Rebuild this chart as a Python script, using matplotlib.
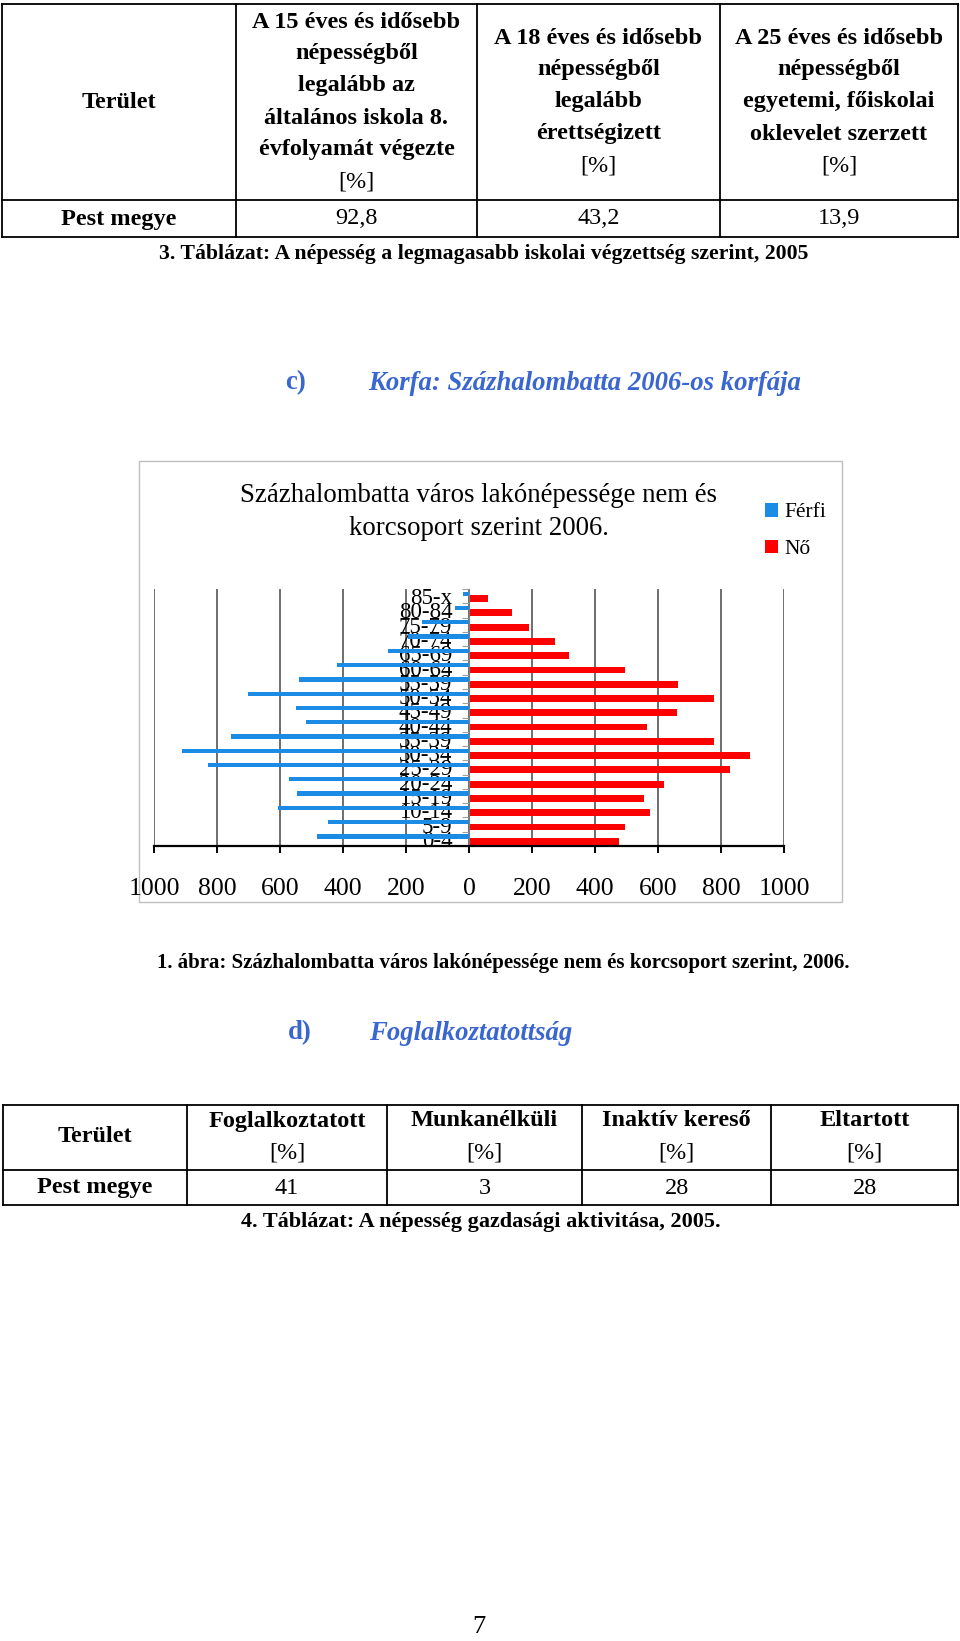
"""
Szazhalombatta korfa oldal: ket tablazat + korfa (2006).
Kimenet: out.png (960x1641)
"""

import numpy as np

import matplotlib
matplotlib.use("Agg")
import matplotlib.pyplot as plt
from matplotlib.patches import Rectangle
from matplotlib.ticker import FuncFormatter

plt.rcParams["font.family"] = ["Liberation Serif", "DejaVu Serif"]

# --- adatok -------------------------------------------------------------
KORCSOPORT = ["0-4", "5-9", "10-14", "15-19", "20-24", "25-29", "30-34", "35-39",
              "40-44", "45-49", "50-54", "55-59", "60-64", "65-69", "70-74", "75-79",
              "80-84", "85-x"]
FERFI = [481, 447, 605, 545, 570, 830, 912, 754, 516, 548, 703, 541, 418, 256, 193, 150, 44, 19]
NO = [475, 494, 574, 555, 618, 830, 891, 777, 564, 661, 777, 664, 494, 317, 273, 190, 136, 60]
X_TICKS = [-1000, -800, -600, -400, -200, 0, 200, 400, 600, 800, 1000]

T3_TERULET = "Pest megye"
T3_FEJLEC = [
    ["A 15 éves és idősebb", "népességből", "legalább az", "általános iskola 8.",
     "évfolyamát végezte", "[%]"],
    ["A 18 éves és idősebb", "népességből", "legalább", "érettségizett", "[%]"],
    ["A 25 éves és idősebb", "népességből", "egyetemi, főiskolai", "oklevelet szerzett", "[%]"],
]
T3_ERTEK = ["92,8", "43,2", "13,9"]
T3_CIM = "3. Táblázat: A népesség a legmagasabb iskolai végzettség szerint, 2005"

T4_FEJLEC = [["Foglalkoztatott", "[%]"], ["Munkanélküli", "[%]"],
             ["Inaktív kereső", "[%]"], ["Eltartott", "[%]"]]
T4_ERTEK = ["41", "3", "28", "28"]
T4_CIM = "4. Táblázat: A népesség gazdasági aktivitása, 2005."

ABRA_CIM = "Százhalombatta város lakónépessége nem és\nkorcsoport szerint 2006."
ABRA_FELIRAT = "1. ábra: Százhalombatta város lakónépessége nem és korcsoport szerint, 2006."

KEK = "#1c8be6"
PIROS = "#ff0000"
CIMSZIN = "#3a66d0"
W, H = 960, 1641


def tabla(ax, xs, ys):
    for x in xs:
        ax.plot([x, x], [ys[0], ys[-1]], color="black", lw=1.3)
    for y in ys:
        ax.plot([xs[0], xs[-1]], [y, y], color="black", lw=1.3)


def fejlec(ax, xc, yc, sorok, dy, fs):
    n = len(sorok)
    for i, s in enumerate(sorok):
        y = yc + (i - (n - 1) / 2) * dy
        ax.text(xc, y, s, ha="center", va="center", fontsize=fs,
                fontweight="normal" if s == "[%]" else "bold")


def main():
    fig = plt.figure(figsize=(W / 100, H / 100), dpi=100)
    pg = fig.add_axes([0, 0, 1, 1])
    pg.set_xlim(0, W); pg.set_ylim(H, 0); pg.axis("off")

    fs_t = 17.5
    # 3. tablazat
    xs = [2, 236, 477, 720, 958]
    ys = [4, 200, 237]
    tabla(pg, xs, ys)
    pg.text(119, 102, "Terület", ha="center", va="center", fontsize=fs_t, fontweight="bold")
    pg.text(119, 219, T3_TERULET, ha="center", va="center", fontsize=fs_t, fontweight="bold")
    for i, sorok in enumerate(T3_FEJLEC):
        xc = (xs[i + 1] + xs[i + 2]) / 2
        fejlec(pg, xc, 102, sorok, 32, fs_t)
        pg.text(xc, 219, T3_ERTEK[i], ha="center", va="center", fontsize=fs_t)
    pg.text(484, 254, T3_CIM, ha="center", va="center", fontsize=15.7, fontweight="bold")

    # c) cimsor
    pg.text(285, 383, "c)", ha="left", va="center", fontsize=19.3, fontweight="bold", color=CIMSZIN)
    pg.text(368, 383, "Korfa: Százhalombatta 2006-os korfája", ha="left", va="center",
            fontsize=19.3, fontstyle="italic", fontweight="bold", color=CIMSZIN)

    # diagram keret
    pg.add_patch(Rectangle((139, 461), 703, 441, fill=False, edgecolor="#bfbfbf", lw=1))
    pg.text(479, 512, ABRA_CIM, ha="center", va="center", fontsize=19.3, linespacing=1.45)

    # korfa
    ax = fig.add_axes([154 / W, 1 - 846 / H, 630 / W, (846 - 589) / H])
    ax.patch.set_alpha(0)
    y = np.arange(len(KORCSOPORT))
    hf = ax.barh(y + 0.17, -np.array(FERFI), height=0.30, color=KEK, label="Férfi")
    hn = ax.barh(y - 0.17, NO, height=0.48, color=PIROS, label="Nő")
    ax.set_xlim(-1000, 1000)
    ax.set_ylim(-0.5, len(KORCSOPORT) - 0.5)
    ax.set_xticks(X_TICKS)
    ax.xaxis.set_major_formatter(FuncFormatter(lambda v, p: f"{abs(int(v))}"))
    ax.set_yticks(y)
    ax.set_yticklabels(KORCSOPORT)
    ax.set_yticks(np.arange(-0.5, len(KORCSOPORT), 1), minor=True)
    ax.grid(axis="x", color="#555555", lw=1.2)
    ax.set_axisbelow(True)
    for s in ("top", "right"):
        ax.spines[s].set_visible(False)
    ax.spines["left"].set_position(("data", 0))
    ax.spines["left"].set_color("#808080")
    ax.spines["bottom"].set_linewidth(1.6)
    ax.tick_params(axis="x", length=5, width=1.4, pad=18, labelsize=18.5)
    ax.tick_params(axis="y", which="major", length=0, pad=12, labelsize=16.5)
    ax.tick_params(axis="y", which="minor", length=5, width=0.8, color="#a0a0a0")

    fig.legend(handles=[hf, hn], loc="upper left", bbox_to_anchor=(765 / W, 1 - 503 / H),
               frameon=False, fontsize=15.5, handlelength=0.6, handleheight=0.6,
               handletextpad=0.3, labelspacing=0.8, borderpad=0, borderaxespad=0)

    pg.text(503, 963, ABRA_FELIRAT, ha="center", va="center", fontsize=15, fontweight="bold")

    # d) cimsor
    pg.text(288, 1033, "d)", ha="left", va="center", fontsize=19.3, fontweight="bold", color=CIMSZIN)
    pg.text(369, 1033, "Foglalkoztatottság", ha="left", va="center",
            fontsize=19.3, fontstyle="italic", fontweight="bold", color=CIMSZIN)

    # 4. tablazat
    xs = [3, 187, 387, 582, 771, 958]
    ys = [1105, 1170, 1205]
    tabla(pg, xs, ys)
    pg.text(95, 1137, "Terület", ha="center", va="center", fontsize=fs_t, fontweight="bold")
    pg.text(95, 1188, T3_TERULET, ha="center", va="center", fontsize=fs_t, fontweight="bold")
    for i, sorok in enumerate(T4_FEJLEC):
        xc = (xs[i + 1] + xs[i + 2]) / 2
        fejlec(pg, xc, 1137, sorok, 32, fs_t)
        pg.text(xc, 1188, T4_ERTEK[i], ha="center", va="center", fontsize=fs_t)
    pg.text(481, 1222, T4_CIM, ha="center", va="center", fontsize=16, fontweight="bold")

    pg.text(479, 1627, "7", ha="center", va="center", fontsize=19)

    fig.savefig("out.png", dpi=100)


if __name__ == "__main__":
    main()
